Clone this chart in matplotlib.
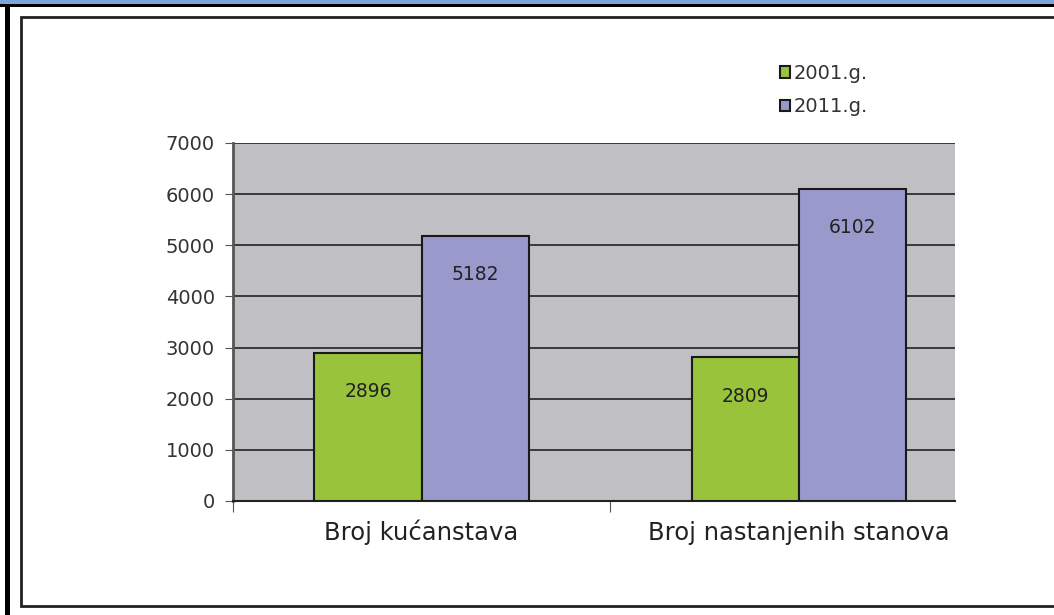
import numpy as np
import matplotlib.pyplot as plt
from matplotlib.patches import Rectangle

# data
categories = ['Broj kućanstava', 'Broj nastanjenih stanova']
series_names = ['2001.g.', '2011.g.']
values_2001 = [2896, 2809]
values_2011 = [5182, 6102]

green = '#99C33B'
purple = '#9999CC'
plot_bg = '#C0C0C4'
txt = '#222222'

W, H = 1054, 615
plt.rcParams['font.family'] = ['DejaVu Sans']
fig = plt.figure(figsize=(W / 100, H / 100), dpi=100)

# decorations of the screenshot: blue strip, black lines, inner frame
def box(x, y, w, h, **kw):
    fig.patches.append(Rectangle((x / W, 1 - (y + h) / H), w / W, h / H,
                                 transform=fig.transFigure, zorder=-5, **kw))

box(0, 0, W, 4, facecolor='#7FA3D4', edgecolor='none')
box(0, 4, W, 3, facecolor='black', edgecolor='none')
box(5, 4, 5, H, facecolor='black', edgecolor='none')
box(21, 17, 1060 - 21, 606 - 17, facecolor='white', edgecolor='#222222', linewidth=2)

# plot area (right part is cut off in the original)
x0, x1, y0, y1 = 233, 955, 143, 501
ax = fig.add_axes([x0 / W, 1 - y1 / H, (x1 - x0) / W, (y1 - y0) / H])
ax.set_facecolor(plot_bg)

x = np.arange(len(categories))
bw = 0.284
b1 = ax.bar(x - bw / 2, values_2001, bw, color=green, edgecolor='#1a1a1a',
            linewidth=1.5, label=series_names[0], zorder=3)
b2 = ax.bar(x + bw / 2, values_2011, bw, color=purple, edgecolor='#1a1a1a',
            linewidth=1.5, label=series_names[1], zorder=3)

for bars in (b1, b2):
    for r in bars:
        ax.text(r.get_x() + r.get_width() / 2, r.get_height() - 760,
                f'{int(r.get_height())}', ha='center', va='center',
                fontsize=13.5, color=txt, zorder=4)

ax.set_ylim(0, 7000)
ax.set_yticks(np.arange(0, 7001, 1000))
ax.set_xlim(-0.5, 1.414)
ax.yaxis.grid(True, color='#222222', linewidth=1.2, zorder=1)
ax.set_axisbelow(True)

ax.set_xticks([-0.5, 0.5], minor=False)
ax.set_xticks(x, minor=True)
ax.set_xticklabels(['', ''])
ax.set_xticklabels(categories, minor=True)
ax.tick_params(axis='x', which='minor', length=0, labelsize=17.5, colors=txt, pad=28)
for t in ax.get_xticklabels(minor=True):
    t.set_verticalalignment('baseline')
ax.tick_params(axis='x', which='major', length=8, direction='out', color='#555555')
ax.tick_params(axis='y', length=6, direction='out', labelsize=14, colors='#333333',
               color='#555555', pad=7)

for s in ['top', 'right']:
    ax.spines[s].set_visible(False)
ax.spines['left'].set_color('#555555')
ax.spines['left'].set_linewidth(2)
ax.spines['bottom'].set_color('#222222')
ax.spines['bottom'].set_linewidth(1.5)

leg = fig.legend(handles=[b1, b2], labels=series_names, loc='upper left',
                 bbox_to_anchor=(772 / W, 1 - 56 / H), frameon=False,
                 fontsize=14, handlelength=0.55, handleheight=0.55,
                 handletextpad=0.15, labelspacing=0.75, borderaxespad=0)
for t in leg.get_texts():
    t.set_color('#333333')

fig.savefig('out.png', dpi=100)
